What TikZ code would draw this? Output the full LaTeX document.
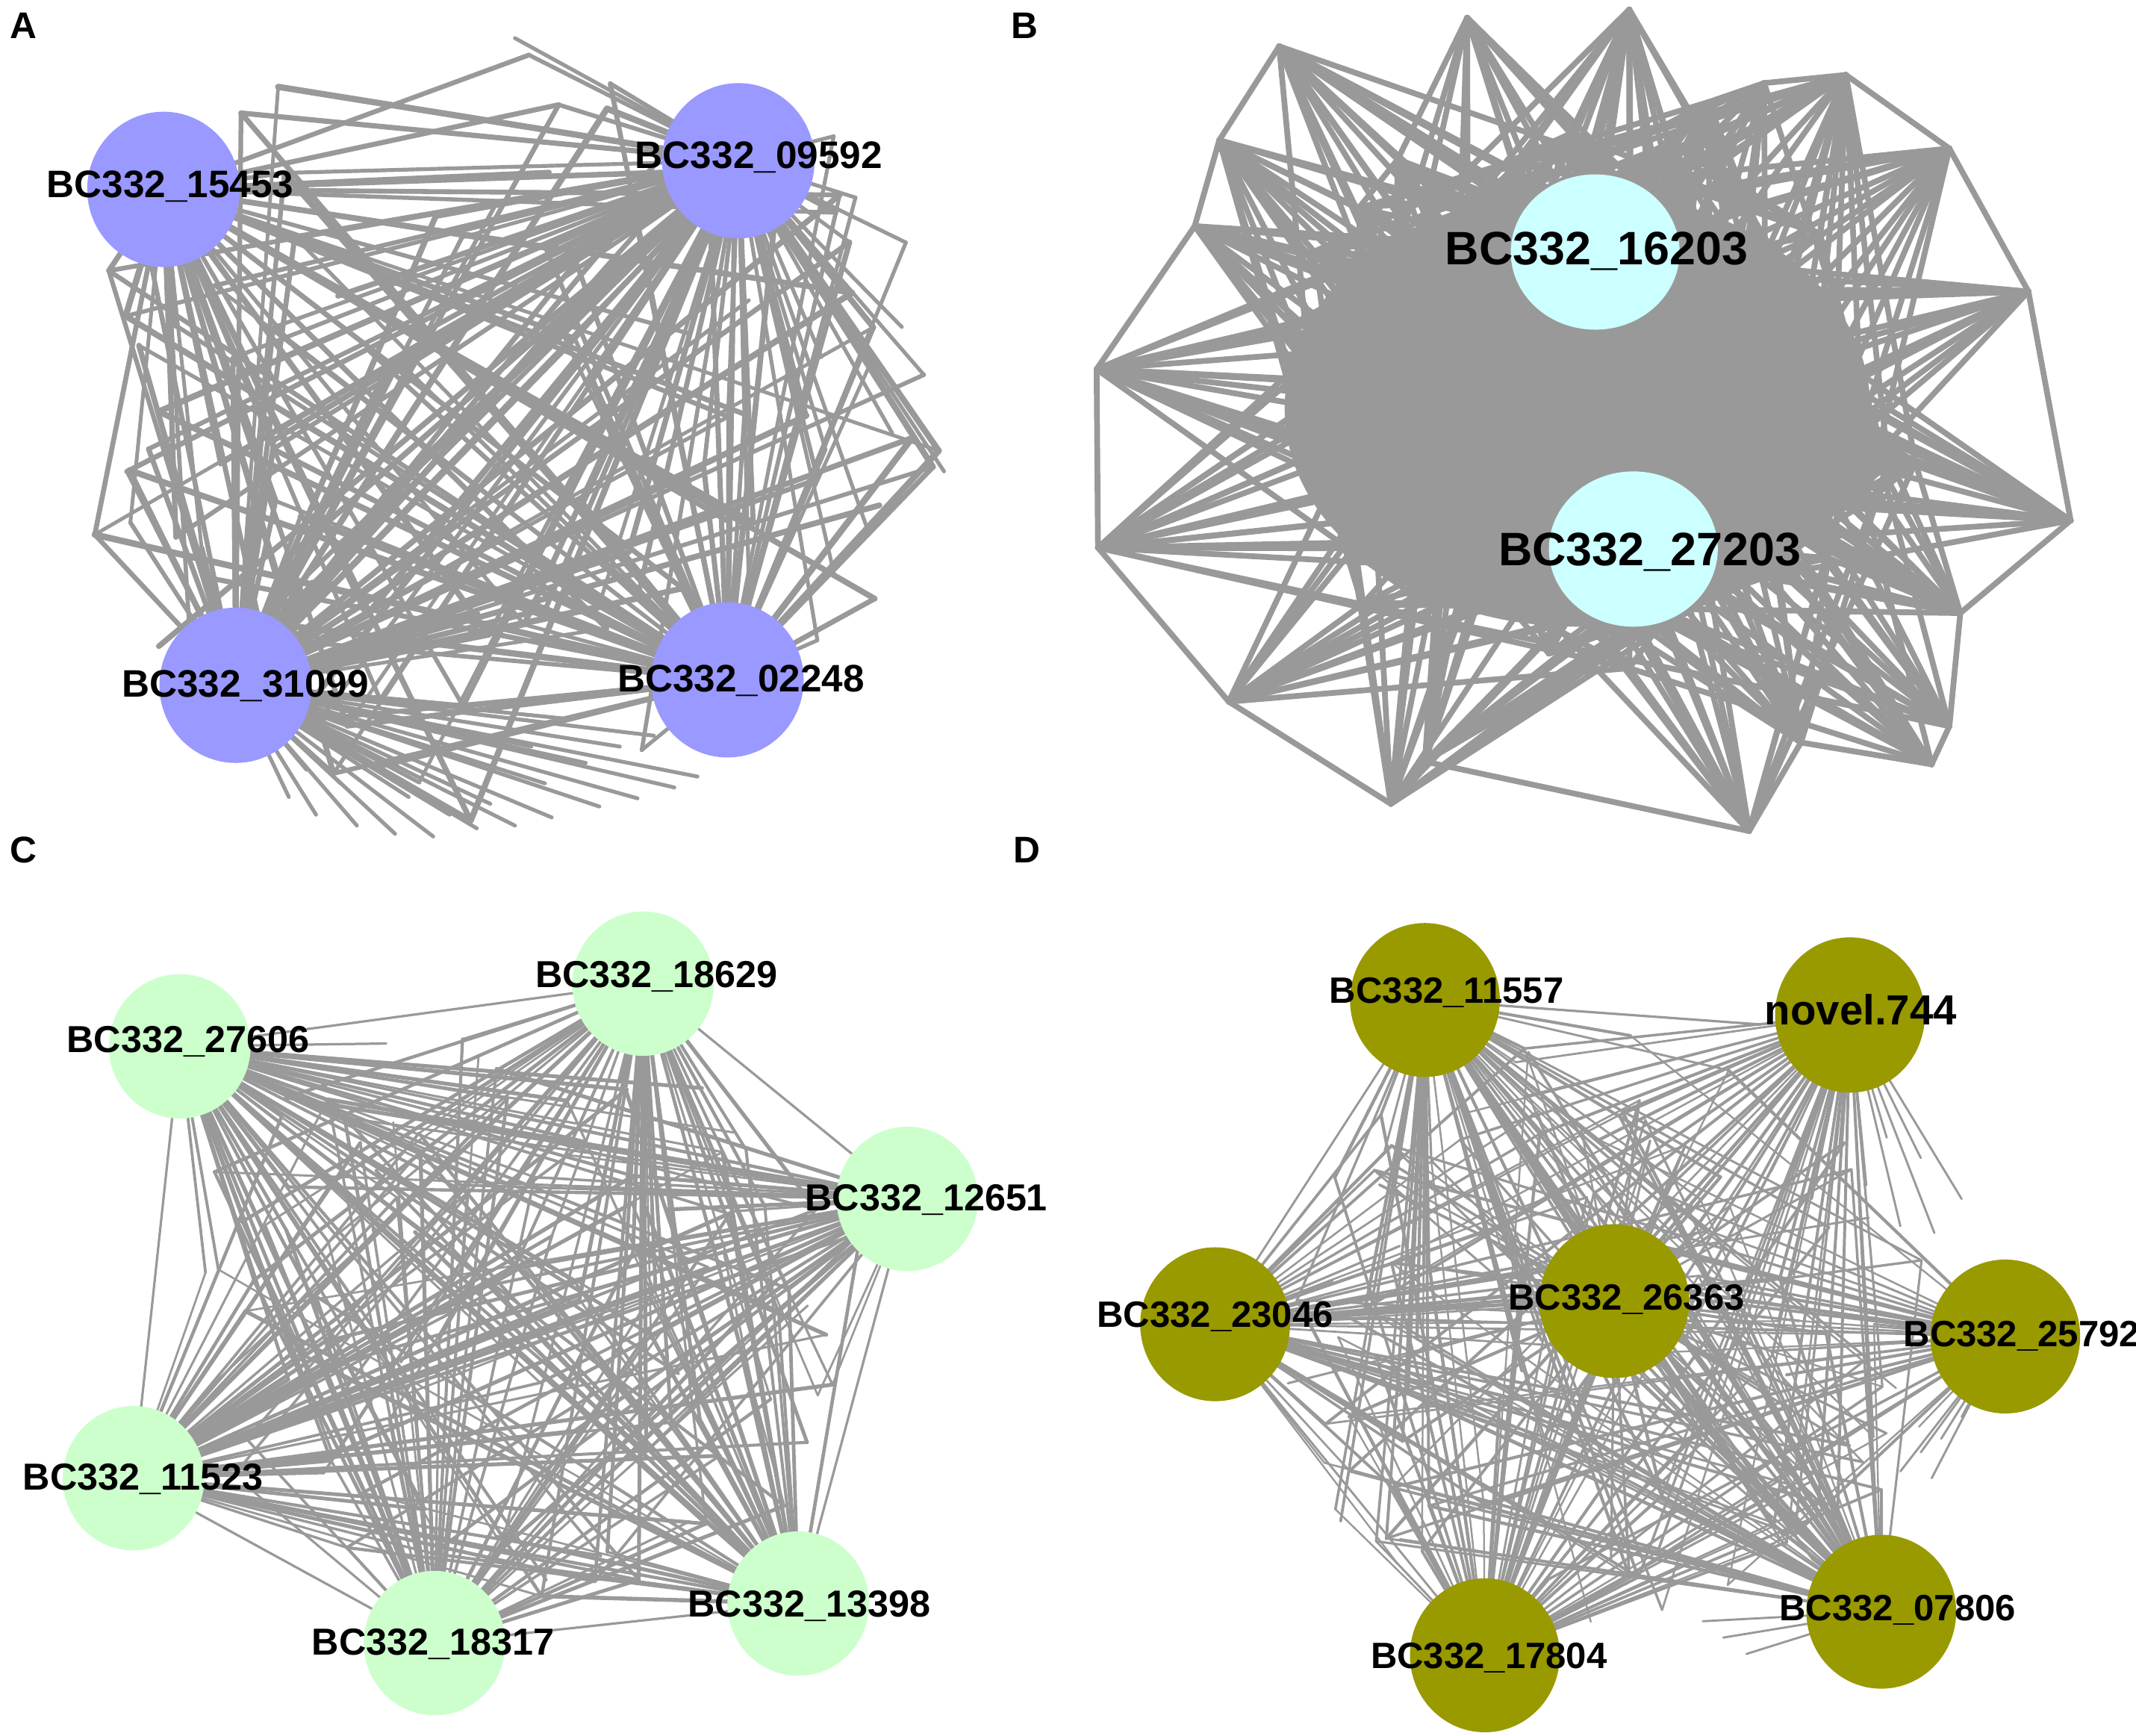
\documentclass[tikz,border=0pt]{standalone}
\usepackage{fontspec}
\setmainfont{Liberation Sans}
\usetikzlibrary{shapes.geometric}
\pgfdeclarelayer{paper}
\pgfdeclarelayer{edges}
\pgfsetlayers{paper,edges,main}
\definecolor{edgegray}{HTML}{999999}
\definecolor{hubblue}{HTML}{9999FF}
\definecolor{hubcyan}{HTML}{CCFFFF}
\definecolor{hubgreen}{HTML}{CCFFCC}
\definecolor{hubolive}{HTML}{999900}

\begin{document}
\begin{tikzpicture}[x=0.02cm, y=-0.02cm]
      \tikzstyle{hub}=[ellipse, inner sep=0pt, minimum width=2.24cm, minimum height=2.28cm]
      \tikzstyle{hubA}=[hub, fill=hubblue]
      \tikzstyle{hubB}=[hub, fill=hubcyan, minimum width=2.48cm, minimum height=2.28cm]
      \tikzstyle{hubC}=[hub, fill=hubgreen, minimum width=2.08cm, minimum height=2.12cm]
      \tikzstyle{hubD}=[hub, fill=hubolive, minimum width=2.2cm, minimum height=2.26cm]
      \tikzstyle{connect}=[draw=edgegray, line cap=round]
      \tikzstyle{lbl}=[inner sep=0pt, text depth=0pt, font=\bfseries\fontsize{16}{16}\selectfont]
      \tikzstyle{panel}=[inner sep=0pt, text depth=0pt, font=\bfseries\fontsize{15.5}{15.5}\selectfont]

      \begin{pgfonlayer}{paper}
        \fill[white] (0,0) rectangle (1568,1274);
      \end{pgfonlayer}
      \useasboundingbox (0,0) rectangle (1568,1274);

      % panel letters
      \node[panel] (pA) at (17,19) {A};
      \node[panel] (pB) at (752,19) {B};
      \node[panel] (pC) at (17,624) {C};
      \node[panel] (pD) at (754,624) {D};

      % hubs
      \node[hubA] (a15453) at (120,139) {};
      \node[hubA] (a09592) at (542,118) {};
      \node[hubA] (a31099) at (173,503) {};
      \node[hubA] (a02248) at (534,499) {};

      \node[hubB] (b16203) at (1171,185) {};
      \node[hubB] (b27203) at (1199,403) {};

      \node[hubC] (c27606) at (132,768) {};
      \node[hubC] (c18629) at (472,722) {};
      \node[hubC] (c12651) at (666,880) {};
      \node[hubC] (c11523) at (98,1085) {};
      \node[hubC] (c18317) at (319,1206) {};
      \node[hubC] (c13398) at (586,1177) {};

      \node[hubD] (d11557) at (1046,734) {};
      \node[hubD, minimum height=2.28cm] (dnovel744) at (1358,745) {};
      \node[hubD] (d23046) at (892,972) {};
      \node[hubD] (d26363) at (1185,955) {};
      \node[hubD] (d25792) at (1472,981) {};
      \node[hubD] (d17804) at (1090,1215) {};
      \node[hubD] (d07806) at (1381,1183) {};

      % hub labels
      \node[lbl] at (125,135) {BC332\_15453};
      \node[lbl] at (557,114) {BC332\_09592};
      \node[lbl] at (180,502) {BC332\_31099};
      \node[lbl] at (544,498) {BC332\_02248};
      \node[lbl, font=\bfseries\fontsize{19.6}{19.6}\selectfont] at (1172,182) {BC332\_16203};
      \node[lbl, font=\bfseries\fontsize{19.6}{19.6}\selectfont] at (1211,403) {BC332\_27203};
      \node[lbl, font=\bfseries\fontsize{15.7}{15.7}\selectfont] at (138,763) {BC332\_27606};
      \node[lbl, font=\bfseries\fontsize{15.7}{15.7}\selectfont] at (482,715) {BC332\_18629};
      \node[lbl, font=\bfseries\fontsize{15.7}{15.7}\selectfont] at (680,879) {BC332\_12651};
      \node[lbl, font=\bfseries\fontsize{15.7}{15.7}\selectfont] at (105,1084) {BC332\_11523};
      \node[lbl, font=\bfseries\fontsize{15.7}{15.7}\selectfont] at (318,1205) {BC332\_18317};
      \node[lbl, font=\bfseries\fontsize{15.7}{15.7}\selectfont] at (594,1177) {BC332\_13398};
      \node[lbl, font=\bfseries\fontsize{15.3}{15.3}\selectfont] at (1062,727) {BC332\_11557};
      \node[lbl, font=\bfseries\fontsize{17.6}{17.6}\selectfont] at (1366,741) {novel.744};
      \node[lbl, font=\bfseries\fontsize{15.3}{15.3}\selectfont] at (892,965) {BC332\_23046};
      \node[lbl, font=\bfseries\fontsize{15.3}{15.3}\selectfont] at (1194,952) {BC332\_26363};
      \node[lbl, font=\bfseries\fontsize{15.3}{15.3}\selectfont] at (1484,979) {BC332\_25792};
      \node[lbl, font=\bfseries\fontsize{15.3}{15.3}\selectfont] at (1093,1215) {BC332\_17804};
      \node[lbl, font=\bfseries\fontsize{15.3}{15.3}\selectfont] at (1393,1180) {BC332\_07806};

      \begin{pgfonlayer}{edges}
      % panel A
      \pgfmathsetseed{11}
      \foreach \i in {1,...,110}{
        \pgfmathsetmacro\ang{360*rnd}
        \pgfmathsetmacro\rr{sqrt(0.06+0.94*rnd)}
        \coordinate (sa\i) at ({355+335*\rr*cos(\ang)},{320+290*\rr*sin(\ang)});
        \foreach \h/\p in {a15453/0.3,a09592/0.62,a31099/0.62,a02248/0.55}{
          \pgfmathtruncatemacro\pick{rnd<\p}
          \pgfmathsetmacro\lw{1.5+1.2*rnd}
          \ifnum\pick=1 \draw[connect, line width=\lw pt] (\h.center) -- (sa\i);\fi
        }
      }
      \foreach \x/\y [count=\k] in {212/585,232/598,262/606,290/612,318/614,350/608,378/606,405/600,
          440/592,468/586,495/578,512/570,430/560,400/575,360/590,330/598,300/585,455/548,480/540,
          420/528,390/548,250/575,225/565}{
        \coordinate (sf\k) at (\x,\y);
        \draw[connect, line width=1.6pt] (a31099.center) -- (sf\k);
      }
      \foreach \x/\y [count=\k] in {612/100,628/145,665/178,662/240,640/270,693/346,655/318,
          638/392,606/330,612/420,600/470,603/262,378/28}{
        \coordinate (sg\k) at (\x,\y);
        \draw[connect, line width=1.6pt] (a09592.center) -- (sg\k);
        \pgfmathtruncatemacro\pick{rnd<0.5}
        \ifnum\pick=1 \draw[connect, line width=1.6pt] (a02248.center) -- (sg\k);\fi
      }

      % panel B
      \fill[edgegray] (1158,300) ellipse [x radius=4.3cm, y radius=3.2cm];
      \foreach \x/\y [count=\k] in {805/271,877/166,895/103,939/34,1026/117,1077/13,1153/98,
          1196/7,1226/106,1254/75,1295/61,1355/55,1431/109,1489/214,1520/382,1439/450,
          1431/533,1418/561,1322/545,1284/610,1046/559,1021/590,902/515,806/402}{
        \coordinate (bo\k) at (\x,\y);
      }
      \pgfmathsetseed{22}
      \foreach \i in {1,...,50}{
        \pgfmathsetmacro\ang{360*rnd}
        \pgfmathsetmacro\rr{sqrt(rnd)}
        \coordinate (bi\i) at ({1160+255*\rr*cos(\ang)},{305+205*\rr*sin(\ang)});
      }
      \foreach \i in {1,...,50}{
        \foreach \j in {\i,...,50}{
          \pgfmathtruncatemacro\pick{rnd<0.12}
          \ifnum\pick=1 \draw[connect, line width=2.4pt] (bi\i) -- (bi\j);\fi
        }
      }
      \foreach \k in {1,...,24}{
        \foreach \i in {1,...,50}{
          \pgfmathtruncatemacro\pick{rnd<0.3}
          \ifnum\pick=1 \draw[connect, line width=2.4pt] (bo\k) -- (bi\i);\fi
        }
        \draw[connect, line width=2.4pt] (b16203.center) -- (bo\k);
        \draw[connect, line width=2.4pt] (b27203.center) -- (bo\k);
      }
      \foreach \k [evaluate=\k as \n using {int(mod(\k,24)+1)}] in {1,...,24}{
        \draw[connect, line width=2.4pt] (bo\k) -- (bo\n);
      }

      % panel C
      \pgfmathsetseed{33}
      \foreach \i in {1,...,120}{
        \pgfmathsetmacro\ang{360*rnd}
        \pgfmathsetmacro\rr{sqrt(rnd)}
        \coordinate (sc\i) at ({385+260*\rr*cos(\ang)},{960+215*\rr*sin(\ang)});
        \foreach \h/\p in {c27606/0.4,c18629/0.38,c12651/0.35,c11523/0.5,c18317/0.3,c13398/0.42}{
          \pgfmathtruncatemacro\pick{rnd<\p}
          \pgfmathsetmacro\lw{0.8+0.9*rnd}
          \ifnum\pick=1 \draw[connect, line width=\lw pt] (\h.center) -- (sc\i);\fi
        }
      }
      \foreach \h/\g in {c27606/c11523,c11523/c18317,c12651/c13398,c27606/c18629,c18629/c12651,c18317/c13398}
        \draw[connect, line width=1pt] (\h.center) -- (\g.center);

      % panel D
      \pgfmathsetseed{44}
      \foreach \i in {1,...,150}{
        \pgfmathsetmacro\ang{360*rnd}
        \pgfmathsetmacro\rr{sqrt(rnd)}
        \coordinate (sd\i) at ({1175+250*\rr*cos(\ang)},{975+220*\rr*sin(\ang)});
        \foreach \h/\p in {d11557/0.42,dnovel744/0.25,d23046/0.33,d26363/0.3,d25792/0.25,d17804/0.35,d07806/0.4}{
          \pgfmathtruncatemacro\pick{rnd<\p}
          \pgfmathsetmacro\lw{0.7+0.7*rnd}
          \ifnum\pick=1 \draw[connect, line width=\lw pt] (\h.center) -- (sd\i);\fi
        }
      }
      \foreach \x/\y [count=\k] in {1300/860,1330/880,1370/870,1395/900,1420/905,1440/880,
          1385/835,1350/845,1410/850,1318/830}{
        \coordinate (sn\k) at (\x,\y);
        \draw[connect, line width=0.9pt] (dnovel744.center) -- (sn\k);
      }
      \foreach \x/\y [count=\k] in {1395/1080,1410/1066,1425/1056,1440/1040,1418/1085}{
        \coordinate (sr\k) at (\x,\y);
        \draw[connect, line width=0.9pt] (d25792.center) -- (sr\k);
      }
      \foreach \x/\y [count=\k] in {1250/1190,1265/1202,1282/1214}{
        \coordinate (sw\k) at (\x,\y);
        \draw[connect, line width=0.9pt] (d07806.center) -- (sw\k);
      }
      \coordinate (s744) at (1293,752);
      \draw[connect, line width=1pt] (d11557.center) -- (s744);
      \foreach \h/\g in {d23046/d11557,d23046/d17804}
        \draw[connect, line width=0.9pt] (\h.center) -- (\g.center);
      \end{pgfonlayer}
\end{tikzpicture}
\end{document}
